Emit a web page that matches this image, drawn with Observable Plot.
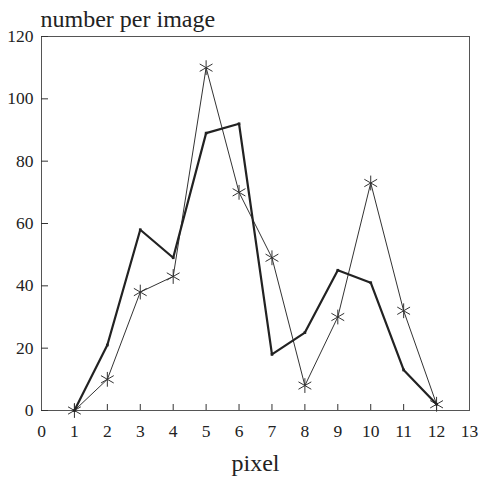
<!DOCTYPE html>
<html><head><meta charset="utf-8">
<script src="https://cdn.jsdelivr.net/npm/d3@7"></script>
<script src="https://cdn.jsdelivr.net/npm/@observablehq/plot@0.6"></script>
<style>body{margin:0;background:#fff}</style>
</head><body><div id="chart"></div>
<script>
const pixels = [1,2,3,4,5,6,7,8,9,10,11,12];
const seriesThick = [0,21,58,49,89,92,18,25,45,41,13,2];
const seriesThin = [0,10,38,43,110,70,49,8,30,73,32,2];
const xTicks = [0,1,2,3,4,5,6,7,8,9,10,11,12,13];
const yTicks = [0,20,40,60,80,100,120];
const yTitle = "number per image";
const xTitle = "pixel";

const thick = pixels.map((p,i)=>({x:p,y:seriesThick[i]}));
const thin = pixels.map((p,i)=>({x:p,y:seriesThin[i]}));
const font = "Liberation Serif, Times New Roman, serif";

const chart = Plot.plot({
  width: 480, height: 479,
  marginLeft: 41, marginRight: 11, marginTop: 36, marginBottom: 69,
  style: {fontFamily: font, fontSize: "17px", color: "#222", background: "#fff"},
  x: {domain: [0,13]},
  y: {domain: [0,120]},
  marks: [
    Plot.frame({stroke: "#555", strokeWidth: 1}),
    Plot.axisY({ticks: yTicks, tickSize: -7, tickPadding: 15, label: null, fontSize: 17.5, stroke: "#333"}),
    Plot.axisX({ticks: xTicks.slice(1,-1), tickSize: -6, tickPadding: 0, label: null, tickFormat: () => "", stroke: "#333"}),
    Plot.axisX({ticks: xTicks, tickSize: 0, tickPadding: 14, label: null, fontSize: 17.5}),
    Plot.line(thin, {x:"x", y:"y", stroke:"#333", strokeWidth: 1}),
    Plot.dot(thin, {x:"x", y:"y", symbol:"asterisk", r: 7, stroke:"#333", strokeWidth: 1}),
    Plot.line(thick, {x:"x", y:"y", stroke:"#222", strokeWidth: 2.2}),
    Plot.dot(thick, {x:"x", y:"y", symbol:"square", r: 1.5, fill:"#222", stroke: "none"}),
    Plot.text([yTitle], {frameAnchor:"top-left", dx: -1, dy: -27, fontSize: 24, textAnchor:"start", fill:"#222"}),
    Plot.text([xTitle], {frameAnchor:"bottom", dy: 60, fontSize: 24, fill:"#222"})
  ]
});
document.getElementById("chart").append(chart);
</script></body></html>
